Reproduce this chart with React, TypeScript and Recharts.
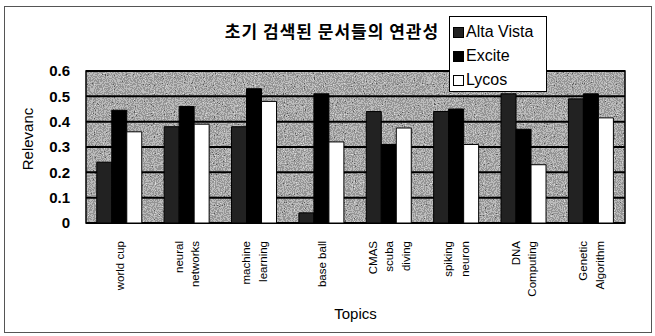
import { BarChart, Bar, XAxis, YAxis, CartesianGrid, ReferenceArea } from 'recharts';

const topics = ['world cup', 'neural networks', 'machine learning', 'base ball', 'CMAS scuba diving', 'spiking neuron', 'DNA Computing', 'Genetic Algorithm'];
const topicLines = [['world cup'], ['neural', 'networks'], ['machine', 'learning'], ['base ball'], ['CMAS', 'scuba', 'diving'], ['spiking', 'neuron'], ['DNA', 'Computing'], ['Genetic', 'Algorithm']];
const altaVista = [0.24, 0.38, 0.38, 0.04, 0.44, 0.44, 0.51, 0.49];
const excite = [0.445, 0.46, 0.53, 0.51, 0.31, 0.45, 0.37, 0.51];
const lycos = [0.36, 0.39, 0.48, 0.32, 0.375, 0.31, 0.23, 0.415];
const yTicks = [0, 0.1, 0.2, 0.3, 0.4, 0.5, 0.6];

const seriesNames = ['Alta Vista', 'Excite', 'Lycos'];
const seriesColors = ['#222222', '#000000', '#ffffff'];

const data = topics.map((t, i) => ({ topic: t, altaVista: altaVista[i], excite: excite[i], lycos: lycos[i] }));

const ARIAL = '"Liberation Sans", Arial, sans-serif';

const TopicTick = (props: any) => {
  const { x, y, payload } = props;
  const lines = topicLines[payload.index] || [payload.value];
  return (
    <g>
      {lines.map((line: string, i: number) => {
        const off = (i - (lines.length - 1) / 2) * 16.5;
        return (
          <text
            key={i}
            transform={`translate(${x + off},${y + 18}) rotate(-90)`}
            textAnchor="end"
            dominantBaseline="central"
            fontSize={11.5}
            fontFamily={ARIAL}
            fill="#000"
          >
            {line}
          </text>
        );
      })}
    </g>
  );
};

const YLabel = (props: any) => {
  const { viewBox } = props;
  const cx = viewBox.x + 27;
  const cy = viewBox.y + viewBox.height / 2 - 8;
  return (
    <text transform={`translate(${cx},${cy}) rotate(-90)`} textAnchor="middle" dominantBaseline="central" fontSize={15} fontFamily={ARIAL} fill="#000">
      Relevanc
    </text>
  );
};

export default function App() {
  return (
    <div style={{ position: 'absolute', left: 0, top: 0, width: 655, height: 336, background: '#fff', fontFamily: ARIAL }}>
      <div style={{ position: 'absolute', left: 4, top: 6, width: 646, height: 325, border: '1px solid #555' }} />
      <div
        style={{
          position: 'absolute', left: 217, top: 19, width: 230, textAlign: 'center',
          fontFamily: '"Noto Sans CJK KR", sans-serif', fontSize: 17, fontWeight: 700, letterSpacing: 1, lineHeight: '24px', color: '#000',
        }}
      >
        초기 검색된 문서들의 연관성
      </div>
      <BarChart width={655} height={336} data={data} margin={{ top: 71, right: 30, bottom: 13, left: 0 }} barCategoryGap="16%" barGap={0}>
        <defs>
          {/* grainy scanned-looking plot background */}
          <filter id="grain" x="0" y="0" width="100%" height="100%">
            <feTurbulence type="fractalNoise" baseFrequency="0.9" numOctaves="1" seed="7" />
            <feColorMatrix type="saturate" values="0" />
            <feComponentTransfer>
              <feFuncR type="discrete" tableValues="0 0.1 0.3 0.5 0.72 0.95" />
              <feFuncG type="discrete" tableValues="0 0.1 0.3 0.5 0.72 0.95" />
              <feFuncB type="discrete" tableValues="0 0.1 0.3 0.5 0.72 0.95" />
              <feFuncA type="linear" slope="0" intercept="1" />
            </feComponentTransfer>
          </filter>
        </defs>
        <ReferenceArea y1={0} y2={0.6} fill="#999" filter="url(#grain)" stroke="none" zIndex={-200} />
        <CartesianGrid vertical={false} stroke="#000" strokeWidth={2} fill="none" />
        <XAxis dataKey="topic" interval={0} tickLine={false} axisLine={false} tickSize={0} tickMargin={0} height={100} tick={<TopicTick />}
          label={{ value: 'Topics', position: 'insideBottom', offset: 4, fontSize: 15, fontFamily: ARIAL, fill: '#000' }} />
        <YAxis width={86} domain={[0, 0.6]} ticks={yTicks} tickLine={false} axisLine={false} tickMargin={10}
          tickFormatter={(v: number) => (v === 0 ? '0' : String(v))}
          tick={{ fontSize: 15, fontWeight: 700, fontFamily: ARIAL, fill: '#000' }}
          label={<YLabel />} />
        <Bar dataKey="altaVista" name={seriesNames[0]} fill={seriesColors[0]} stroke="#000" strokeWidth={1} isAnimationActive={false} />
        <Bar dataKey="excite" name={seriesNames[1]} fill={seriesColors[1]} stroke="#000" strokeWidth={1} isAnimationActive={false} />
        <Bar dataKey="lycos" name={seriesNames[2]} fill={seriesColors[2]} stroke="#000" strokeWidth={1} isAnimationActive={false} />
        <ReferenceArea y1={0} y2={0.6} fill="none" stroke="#000" strokeWidth={1.5} />
      </BarChart>
      <div style={{ position: 'absolute', left: 449, top: 16, width: 96, height: 74, border: '1px solid #000', background: '#fff' }}>
        {seriesNames.map((n, i) => (
          <div key={n} style={{ position: 'absolute', left: 3, top: 4 + i * 24, height: 22, display: 'flex', alignItems: 'center', fontSize: 16, color: '#000', whiteSpace: 'nowrap' }}>
            <span style={{ display: 'inline-block', width: 9, height: 9, border: '1px solid #000', background: seriesColors[i], marginRight: 2 }} />
            {n}
          </div>
        ))}
      </div>
    </div>
  );
}
